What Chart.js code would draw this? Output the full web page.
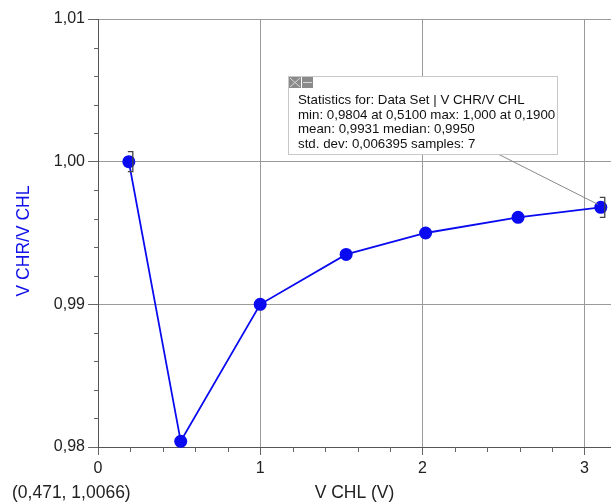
<!DOCTYPE html>
<html>
<head>
<meta charset="utf-8">
<script src="https://cdn.jsdelivr.net/npm/chart.js@4.4.1/dist/chart.umd.min.js"></script>
<style>
html,body{margin:0;padding:0;background:#fff;}
canvas{display:block;}
</style>
</head>
<body>
<canvas id="c" width="611" height="502"></canvas>
<script>
// ---- data ----
const xValues = [0.19, 0.51, 1.00, 1.53, 2.02, 2.59, 3.10];
const yValues = [1.0000, 0.9804, 0.9900, 0.9935, 0.9950, 0.9961, 0.9968];
const errValues = [0.0007, 0, 0, 0, 0, 0, 0.0007];
const xTicks = [0, 1, 2, 3];
const yTicks = [0.98, 0.99, 1.00, 1.01];
const xTitle = 'V CHL (V)';
const yTitle = 'V CHR/V CHL';
const cursorLabel = '(0,471, 1,0066)';
const statsLines = [
  'Statistics for: Data Set | V CHR/V CHL',
  'min: 0,9804 at 0,5100 max: 1,000 at 0,1900',
  'mean: 0,9931 median: 0,9950',
  'std. dev: 0,006395 samples: 7'
];

const FONT = '"Liberation Sans", Arial, sans-serif';
const fmt = (v, d) => v.toFixed(d).replace('.', ',');

const extras = {
  id: 'extras',
  afterDatasetsDraw(chart) {
    const ctx = chart.ctx;
    const xs = chart.scales.x, ys = chart.scales.y;
    ctx.save();
    // minor ticks
    ctx.strokeStyle = '#666';
    ctx.lineWidth = 1;
    for (let i = 1; i * 0.2 <= xs.max; i++) {
      const v = i * 0.2;
      if (Math.abs(v - Math.round(v)) < 1e-6) continue;
      const px = Math.round(xs.getPixelForValue(v)) + 0.5;
      ctx.beginPath(); ctx.moveTo(px, xs.top); ctx.lineTo(px, xs.top + 5); ctx.stroke();
    }
    for (let i = 1; i < 15; i++) {
      if (i % 5 === 0) continue;
      const v = 0.98 + i * 0.002;
      const py = Math.round(ys.getPixelForValue(v)) + 0.5;
      ctx.beginPath(); ctx.moveTo(ys.right - 4, py); ctx.lineTo(ys.right, py); ctx.stroke();
    }
    // error bars
    ctx.strokeStyle = '#444';
    ctx.lineWidth = 1.3;
    xValues.forEach((xv, i) => {
      const e = errValues[i];
      if (!e) return;
      const px = xs.getPixelForValue(xv);
      const t = ys.getPixelForValue(yValues[i] + e);
      const b = ys.getPixelForValue(yValues[i] - e);
      ctx.beginPath();
      ctx.moveTo(px - 1, t); ctx.lineTo(px + 4, t); ctx.lineTo(px + 4, b); ctx.lineTo(px - 1, b);
      ctx.stroke();
    });
    // stats box connector
    const last = xValues.length - 1;
    const lx = xs.getPixelForValue(xValues[last]);
    const ly = ys.getPixelForValue(yValues[last]);
    ctx.strokeStyle = '#888';
    ctx.lineWidth = 1;
    ctx.beginPath(); ctx.moveTo(498, 154); ctx.lineTo(lx - 3, ly - 3); ctx.stroke();
    // stats box
    ctx.fillStyle = '#fff';
    ctx.fillRect(288.5, 76.5, 269, 78);
    ctx.strokeStyle = '#c8c8c8';
    ctx.strokeRect(288.5, 76.5, 269, 78);
    // icons
    ctx.fillStyle = '#8a8a8a';
    ctx.fillRect(289, 77, 12, 11);
    ctx.fillRect(302, 77, 11, 11);
    ctx.strokeStyle = '#d8d8d8';
    ctx.lineWidth = 1;
    ctx.beginPath();
    ctx.moveTo(290, 78); ctx.lineTo(300, 87);
    ctx.moveTo(300, 78); ctx.lineTo(290, 87);
    ctx.moveTo(303, 82.5); ctx.lineTo(312, 82.5);
    ctx.stroke();
    ctx.fillStyle = '#111';
    ctx.font = '13.3px ' + FONT;
    ctx.textAlign = 'left';
    ctx.textBaseline = 'middle';
    statsLines.forEach((s, i) => ctx.fillText(s, 298, 100.5 + i * 14.6));
    // titles
    ctx.fillStyle = '#222';
    ctx.font = '17.5px ' + FONT;
    ctx.textAlign = 'center';
    ctx.fillText(xTitle, (xs.left + xs.right) / 2, 493);
    ctx.textAlign = 'left';
    ctx.fillText(cursorLabel, 12, 493);
    ctx.save();
    ctx.translate(24, (ys.top + ys.bottom) / 2 + 8);
    ctx.rotate(-Math.PI / 2);
    ctx.fillStyle = '#1010e8';
    ctx.font = '17.5px ' + FONT;
    ctx.textAlign = 'center';
    ctx.fillText(yTitle, 0, 0);
    ctx.restore();
    ctx.restore();
  }
};

new Chart(document.getElementById('c'), {
  type: 'scatter',
  data: {
    datasets: [{
      data: xValues.map((x, i) => ({x, y: yValues[i]})),
      showLine: true,
      borderColor: '#0a0af0',
      borderWidth: 1.8,
      backgroundColor: '#0a0af0',
      pointRadius: 6.5,
      pointBorderWidth: 0,
      pointBackgroundColor: '#0a0af0',
      clip: false
    }]
  },
  options: {
    responsive: false,
    animation: false,
    events: [],
    layout: { autoPadding: false, padding: { top: 19, right: 0, left: 0, bottom: 0 } },
    plugins: { legend: { display: false }, tooltip: { enabled: false } },
    scales: {
      x: {
        type: 'linear', min: 0, max: 3.163,
        afterBuildTicks: (a) => { a.ticks = xTicks.map(v => ({value: v})); },
        afterFit: (s) => { s.height = 55; },
        ticks: { callback: (v) => String(v), font: { size: 16, family: FONT }, color: '#222', padding: 4, maxRotation: 0 },
        grid: { color: '#9a9a9a', tickColor: '#666', tickLength: 8, lineWidth: 1 },
        border: { color: '#555', width: 1 }
      },
      y: {
        type: 'linear', min: 0.98, max: 1.01,
        afterBuildTicks: (a) => { a.ticks = yTicks.map(v => ({value: v})); },
        afterFit: (s) => { s.width = 98; },
        ticks: { callback: (v) => fmt(v, 2), font: { size: 16, family: FONT }, color: '#222', padding: 3 },
        grid: { color: '#9a9a9a', tickColor: '#666', tickLength: 10, lineWidth: 1 },
        border: { color: '#555', width: 1 }
      }
    }
  },
  plugins: [extras]
});
</script>
</body>
</html>
